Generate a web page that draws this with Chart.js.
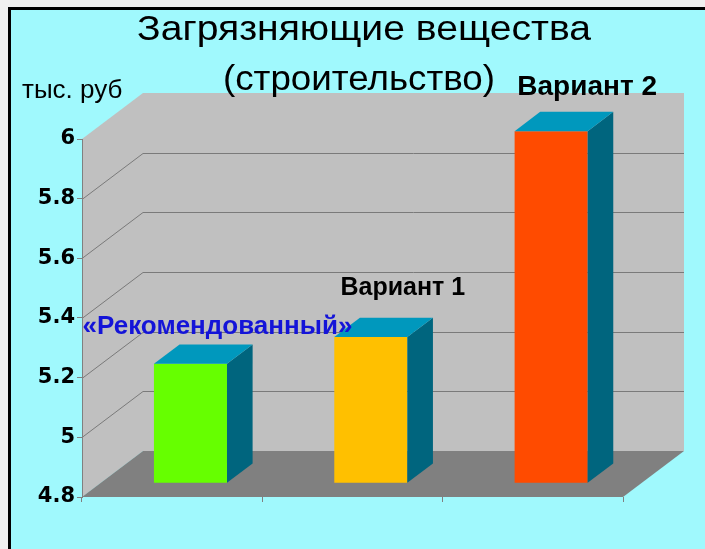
<!DOCTYPE html>
<html lang="ru">
<head>
<meta charset="utf-8">
<title>Загрязняющие вещества</title>
<script src="https://cdn.jsdelivr.net/npm/chart.js@4.4.0/dist/chart.umd.min.js"></script>
<style>
  body { margin: 0; background: #f0f0f0; }
  #wrap { width: 705px; height: 549px; }
</style>
</head>
<body>
<div id="wrap"><canvas id="myChart"></canvas></div>
<script>
// chart data
var categories = ['«Рекомендованный»', 'Вариант 1', 'Вариант 2'];
var values = [5.2, 5.29, 5.98];
var yTickValues = [4.8, 5, 5.2, 5.4, 5.6, 5.8, 6];
var yTickLabels = ['4.8', '5', '5.2', '5.4', '5.6', '5.8', '6'];
var titleLines = ['Загрязняющие вещества', '(строительство)'];
var unitLabel = 'тыс. руб';

var frontColors = ['#66ff00', '#ffc000', '#ff4b00'];
var DX = 61, DY = -46;          // depth of the 3d box
var BAR_D0 = 0.3, BAR_D1 = 0.72; // where the bars sit in the depth

// draw text squeezed/stretched to a given width
function fitText(ctx, text, cx, base, w) {
  var m = ctx.measureText(text).width;
  ctx.save();
  ctx.translate(cx, base);
  ctx.scale(w / m, 1);
  ctx.fillText(text, 0, 0);
  ctx.restore();
}

var box3d = {
  id: 'box3d',
  beforeDraw(chart) {
    const ctx = chart.ctx, a = chart.chartArea, y = chart.scales.y;
    ctx.save();
    // frame
    ctx.fillStyle = '#f0f0f0';
    ctx.fillRect(0, 0, chart.width, chart.height);
    ctx.fillStyle = '#000';
    ctx.fillRect(8, 7, chart.width, chart.height);
    ctx.fillStyle = '#a0f9fd';
    ctx.fillRect(11, 10, chart.width, chart.height);

    // back wall + side wall
    ctx.fillStyle = '#c0c0c0';
    ctx.fillRect(a.left + DX, a.top + DY, a.right - a.left, a.bottom - a.top);
    ctx.beginPath();
    ctx.moveTo(a.left, a.top);
    ctx.lineTo(a.left + DX, a.top + DY);
    ctx.lineTo(a.left + DX, a.bottom + DY);
    ctx.lineTo(a.left, a.bottom);
    ctx.closePath();
    ctx.fill();

    // grid lines on the walls
    ctx.strokeStyle = '#7a7a7a';
    ctx.lineWidth = 1;
    yTickValues.forEach(function (v, i) {
      if (i === 0 || i === yTickValues.length - 1) return;
      const py = Math.round(y.getPixelForValue(v)) + 0.5;
      ctx.beginPath();
      ctx.moveTo(a.left, py);
      ctx.lineTo(a.left + DX, py + DY);
      ctx.lineTo(a.right + DX, py + DY);
      ctx.stroke();
    });

    // floor
    ctx.fillStyle = '#808080';
    ctx.beginPath();
    ctx.moveTo(a.left, a.bottom);
    ctx.lineTo(a.right, a.bottom);
    ctx.lineTo(a.right + DX, a.bottom + DY);
    ctx.lineTo(a.left + DX, a.bottom + DY);
    ctx.closePath();
    ctx.fill();

    // title
    ctx.fillStyle = '#000';
    ctx.textAlign = 'center';
    ctx.textBaseline = 'alphabetic';
    ctx.font = '35px "Liberation Sans", Arial, sans-serif';
    fitText(ctx, titleLines[0], 364, 40, 454);
    fitText(ctx, titleLines[1], 359, 90, 272);

    // unit
    ctx.textAlign = 'left';
    ctx.font = '26px "Liberation Sans", Arial, sans-serif';
    ctx.fillText(unitLabel, 22, 98);
    ctx.restore();
  },
  beforeDatasetsDraw(chart) {
    chart.ctx.save();
    chart.ctx.translate(BAR_D0 * DX, BAR_D0 * DY);
  },
  afterDatasetsDraw(chart) {
    const ctx = chart.ctx;
    ctx.restore();
    const ox = BAR_D0 * DX, oy = BAR_D0 * DY;
    const bdx = (BAR_D1 - BAR_D0) * DX, bdy = (BAR_D1 - BAR_D0) * DY;
    const labelColors = ['#1414d8', '#000', '#000'];
    const labelSizes = [26, 25, 28];
    const labelDx = [-5, 0, 4], labelDy = [6, -6, 0];
    const bars = chart.getDatasetMeta(0).data.map(function (bar) {
      return bar.getProps(['x', 'y', 'base', 'width'], true);
    });
    ctx.save();
    bars.forEach(function (p) {
      const xl = p.x - p.width / 2 + ox, xr = p.x + p.width / 2 + ox;
      const top = p.y + oy, bot = p.base + oy;
      // side
      ctx.fillStyle = '#00657e';
      ctx.beginPath();
      ctx.moveTo(xr, top);
      ctx.lineTo(xr + bdx, top + bdy);
      ctx.lineTo(xr + bdx, bot + bdy);
      ctx.lineTo(xr, bot);
      ctx.closePath();
      ctx.fill();
      // top
      ctx.fillStyle = '#0098bd';
      ctx.beginPath();
      ctx.moveTo(xl, top);
      ctx.lineTo(xl + bdx, top + bdy);
      ctx.lineTo(xr + bdx, top + bdy);
      ctx.lineTo(xr, top);
      ctx.closePath();
      ctx.fill();
    });
    // labels on top of everything
    ctx.textAlign = 'center';
    bars.forEach(function (p, i) {
      ctx.fillStyle = labelColors[i];
      ctx.font = 'bold ' + labelSizes[i] + 'px "Liberation Sans", Arial, sans-serif';
      ctx.fillText(categories[i], p.x + ox + 32 + labelDx[i], p.y + oy - 36 + labelDy[i]);
    });
    ctx.restore();
  }
};

new Chart(document.getElementById('myChart'), {
  type: 'bar',
  data: {
    labels: categories,
    datasets: [{
      data: values,
      base: yTickValues[0],
      backgroundColor: frontColors,
      borderWidth: 0,
      clip: false,
      barPercentage: 0.405,
      categoryPercentage: 1
    }]
  },
  options: {
    responsive: true,
    maintainAspectRatio: false,
    animation: false,
    layout: { padding: { top: 139, right: 82, left: 0, bottom: 0 } },
    plugins: {
      legend: { display: false },
      tooltip: { enabled: false },
      title: { display: false }
    },
    scales: {
      x: {
        grid: { drawOnChartArea: false, tickLength: 5, color: '#808080' },
        border: { display: false },
        ticks: { display: false },
        afterFit: function (s) { s.height = 52; }
      },
      y: {
        min: 4.8,
        max: 6,
        afterBuildTicks: function (s) {
          s.ticks = yTickValues.map(function (v) { return { value: v }; });
        },
        ticks: {
          callback: function (v, i) { return yTickLabels[i]; },
          color: '#000',
          padding: 2,
          font: { family: 'DejaVu Sans', weight: 'bold', size: 21 }
        },
        grid: { drawOnChartArea: false, tickLength: 5, color: '#808080' },
        border: { color: '#808080' },
        afterFit: function (s) { s.width = 82; }
      }
    }
  },
  plugins: [box3d]
});
</script>
</body>
</html>
